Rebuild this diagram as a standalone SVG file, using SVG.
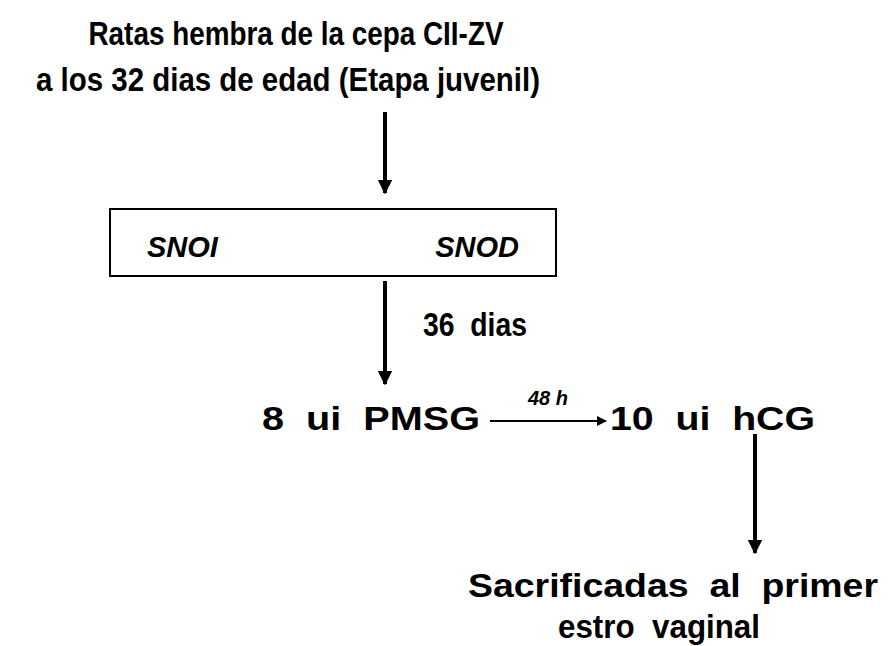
<svg xmlns="http://www.w3.org/2000/svg" width="895" height="646" viewBox="0 0 895 646">
<defs>
<style>
.t{font-family:"Liberation Sans",Arial,sans-serif;font-weight:bold;fill:#000;white-space:pre}
.ln{stroke:#000;fill:none}
</style>
<marker id="ah" viewBox="0 0 10 10" refX="9" refY="5" markerWidth="3.6" markerHeight="4.5" orient="auto" markerUnits="strokeWidth"><path d="M0,0 L10,5 L0,10 Z" fill="#000"/></marker>
<marker id="ah2" viewBox="0 0 10 10" refX="9" refY="5" markerWidth="6" markerHeight="5" orient="auto" markerUnits="strokeWidth"><path d="M0,0 L10,5 L0,10 Z" fill="#000"/></marker>
</defs>
<rect width="895" height="646" fill="#fff"/>
<g id="n1">
<text class="t" x="296" y="45" font-size="33" text-anchor="middle" textLength="415" lengthAdjust="spacingAndGlyphs">Ratas hembra de la cepa CII-ZV</text>
<text class="t" x="288" y="91" font-size="33" text-anchor="middle" textLength="504" lengthAdjust="spacingAndGlyphs">a los 32 dias de edad (Etapa juvenil)</text>
</g>
<g id="n2">
<rect x="110" y="209" width="446" height="67" fill="none" stroke="#000" stroke-width="2"/>
<text class="t" x="147" y="257" font-size="29" font-style="italic">SNOI</text>
<text class="t" x="519" y="257" font-size="29" font-style="italic" text-anchor="end">SNOD</text>
</g>
<g id="n3">
<text class="t" x="262" y="430" font-size="33" textLength="218" lengthAdjust="spacingAndGlyphs">8  ui  PMSG</text>
<text class="t" x="610" y="430" font-size="33" textLength="205" lengthAdjust="spacingAndGlyphs">10  ui  hCG</text>
</g>
<g id="n4">
<text class="t" x="673" y="597" font-size="33" text-anchor="middle" textLength="410" lengthAdjust="spacingAndGlyphs">Sacrificadas  al  primer</text>
<text class="t" x="659" y="638" font-size="33" text-anchor="middle" textLength="202" lengthAdjust="spacingAndGlyphs">estro  vaginal</text>
</g>
<g id="connectors">
<line class="ln" x1="385" y1="112" x2="385" y2="193" stroke-width="4" marker-end="url(#ah)"/>
<line class="ln" x1="385" y1="281" x2="385" y2="384" stroke-width="4" marker-end="url(#ah)"/>
<text class="t" x="423" y="336" font-size="33" textLength="104" lengthAdjust="spacingAndGlyphs">36  dias</text>
<line class="ln" x1="490" y1="421" x2="606" y2="421" stroke-width="2" marker-end="url(#ah2)"/>
<text class="t" x="548" y="405" font-size="20" font-style="italic" text-anchor="middle">48 h</text>
<line class="ln" x1="755" y1="434" x2="755" y2="553" stroke-width="4" marker-end="url(#ah)"/>
</g>
</svg>
